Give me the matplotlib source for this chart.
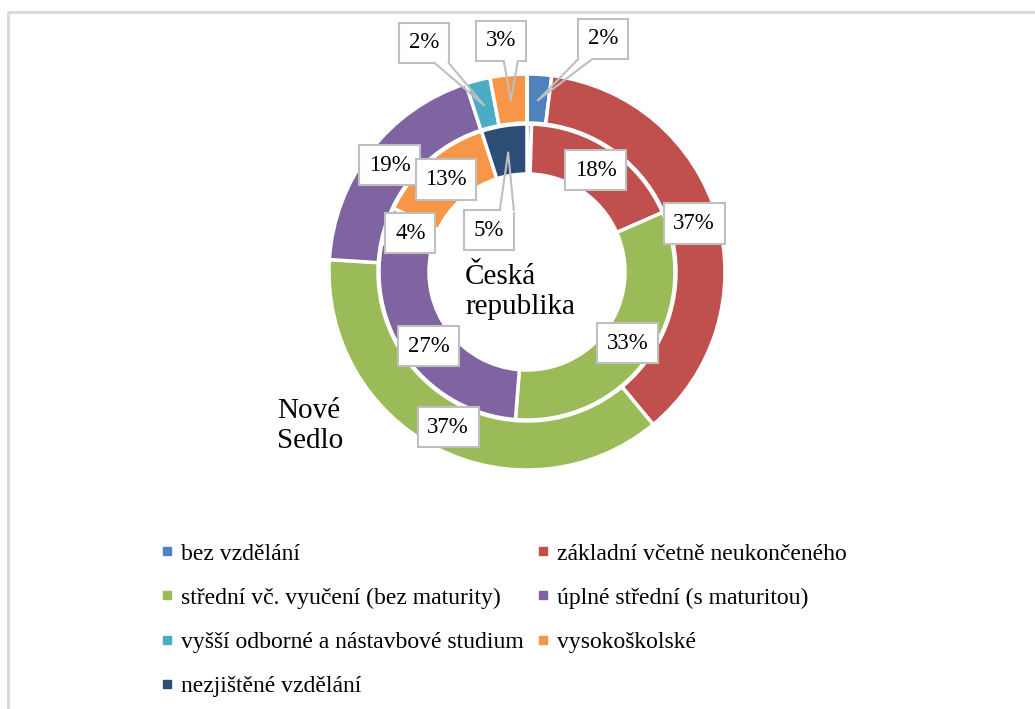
import numpy as np
import matplotlib.pyplot as plt
from matplotlib.lines import Line2D

plt.rcParams['font.family'] = ['Liberation Serif', 'DejaVu Serif']

# kategorie vzdělání a barvy (paleta Excelu)
kategorie = ['bez vzdělání', 'základní včetně neukončeného',
             'střední vč. vyučení (bez maturity)', 'úplné střední (s maturitou)',
             'vyšší odborné a nástavbové studium', 'vysokoškolské',
             'nezjištěné vzdělání']
barvy = ['#4F81BD', '#C0504D', '#9BBB59', '#8064A2', '#4BACC6', '#F79646', '#2C4D75']

# podíly v % - vnější kruh Nové Sedlo, vnitřní Česká republika
nove_sedlo = [2, 37, 37, 19, 2, 3, 0]
ceska_rep = [0.5, 18, 33, 27, 4, 13, 5]

W, H = 1035, 709
fig = plt.figure(figsize=(W / 100, H / 100), dpi=100)
ax = fig.add_axes([0, 0, 1, 1])

cx, cy = 527, H - 272
wp = dict(edgecolor='white', linewidth=2.5)
vnejsi, _ = ax.pie(nove_sedlo, radius=198, center=(cx, cy), startangle=90,
                   counterclock=False, colors=barvy, wedgeprops=dict(width=49, **wp))
vnitrni, _ = ax.pie(ceska_rep, radius=148, center=(cx, cy), startangle=90,
                    counterclock=False, colors=barvy, wedgeprops=dict(width=50, **wp))
ax.set_xlim(0, W)
ax.set_ylim(0, H)
ax.set_aspect('equal')
ax.axis('off')


def bod(w, r):
    t = np.deg2rad((w.theta1 + w.theta2) / 2)
    return cx + r * np.cos(t), cy + r * np.sin(t)


box = dict(boxstyle='square,pad=0.42', fc='white', ec='#bfbfbf', lw=1.5)
# popisky s odkazem (pozice v pixelech obrázku)
odkazy_vnejsi = {0: (603, 39), 4: (424, 43), 5: (501, 41)}
odkazy_vnitrni = {6: (489, 230)}

bubliny = []
for klin, v, i in zip(vnejsi, nove_sedlo, range(7)):
    if v < 1:
        continue
    if i in odkazy_vnejsi:
        x, y = odkazy_vnejsi[i]
        t = ax.text(x, H - y, f'{v:.0f}%', ha='center', va='center', fontsize=16.5, bbox=box)
        bubliny.append((t, bod(klin, 172)))
    else:
        x, y = bod(klin, 174)
        ax.text(x, y, f'{v:.0f}%', ha='center', va='center', fontsize=16.5, bbox=box)

for klin, v, i in zip(vnitrni, ceska_rep, range(7)):
    if v < 1:
        continue
    if i in odkazy_vnitrni:
        x, y = odkazy_vnitrni[i]
        t = ax.text(x, H - y, f'{v:.0f}%', ha='center', va='center', fontsize=16.5, bbox=box)
        bubliny.append((t, bod(klin, 121)))
    else:
        x, y = bod(klin, 123)
        ax.text(x, y, f'{v:.0f}%', ha='center', va='center', fontsize=16.5, bbox=box)

fig.canvas.draw()
r = fig.canvas.get_renderer()
for t, (tx, ty) in bubliny:
    bb = t.get_bbox_patch().get_window_extent(r)
    by = bb.y0 if ty < bb.y0 else bb.y1
    bx = np.clip(tx, bb.x0 + 7, bb.x1 - 7)
    ax.plot([bx - 6, bx + 6], [by, by], color='white', lw=2.5, zorder=4)
    ax.plot([bx - 7, tx, bx + 7], [by, ty, by], color='#bfbfbf', lw=1.5, zorder=5)

ax.text(277, H - 426, 'Nové\nSedlo', ha='left', va='center', fontsize=21, linespacing=1.15)
ax.text(465, H - 292, 'Česká\nrepublika', ha='left', va='center', fontsize=21, linespacing=1.15)

# rámeček grafu
ax.plot([8, 8, W], [0, H - 12, H - 12], color='#d9d9d9', lw=2, clip_on=False)

poradi = [0, 2, 4, 6, 1, 3, 5]
handles = [Line2D([], [], marker='s', ls='', color=barvy[i], markersize=6) for i in poradi]
ax.legend(handles, [kategorie[i] for i in poradi], loc='upper left',
          bbox_to_anchor=(160 / W, 1 - 543 / H), bbox_transform=fig.transFigure,
          ncol=2, frameon=False, fontsize=17, handlelength=0.6, handletextpad=0.3,
          columnspacing=0.5, labelspacing=0.96, borderaxespad=0, borderpad=0)

fig.savefig('out.png', dpi=100)
